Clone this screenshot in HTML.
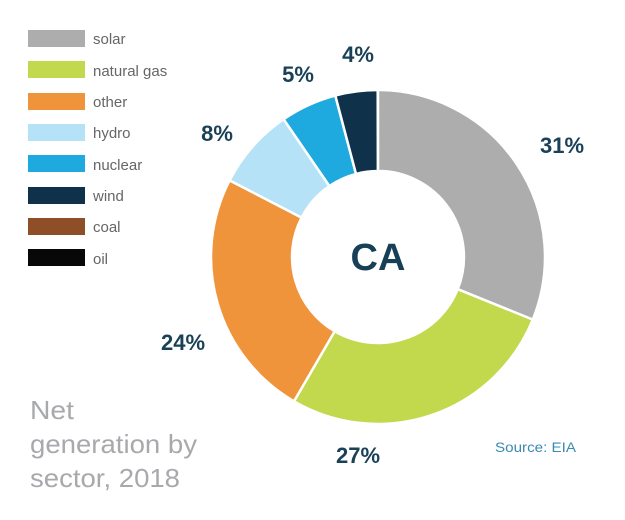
<!DOCTYPE html>
<html><head><meta charset="utf-8"><style>
html,body{margin:0;padding:0;background:#fff;}
body{width:625px;height:515px;overflow:hidden;}
</style></head><body>
<svg width="625" height="515" xmlns="http://www.w3.org/2000/svg" style="font-family:'Liberation Sans',sans-serif">
<g stroke="#fff" stroke-width="2.5" stroke-linejoin="round">
<path d="M378,90 A167,167 0 0 1 532.8,319.6 L457.7,289.2 A86,86 0 0 0 378,171 Z" fill="#adadad"/>
<path d="M532.8,319.6 A167,167 0 0 1 294,401.3 L334.7,331.3 A86,86 0 0 0 457.7,289.2 Z" fill="#c2d84d"/>
<path d="M294,401.3 A167,167 0 0 1 229.6,180.4 L301.6,217.6 A86,86 0 0 0 334.7,331.3 Z" fill="#ef943b"/>
<path d="M229.6,180.4 A167,167 0 0 1 283.6,119.2 L329.4,186 A86,86 0 0 0 301.6,217.6 Z" fill="#b5e2f7"/>
<path d="M283.6,119.2 A167,167 0 0 1 335.3,95.5 L356,173.9 A86,86 0 0 0 329.4,186 Z" fill="#1faadf"/>
<path d="M335.3,95.5 A167,167 0 0 1 377.7,90 L377.85,171 A86,86 0 0 0 356,173.9 Z" fill="#0f3149"/>
</g>
<text x="378" y="270" text-anchor="middle" font-size="38" font-weight="bold" fill="#173f55">CA</text>
<g font-size="22" font-weight="bold" fill="#1a4157" text-anchor="middle">
<text x="562" y="153">31%</text>
<text x="358" y="463">27%</text>
<text x="183" y="350">24%</text>
<text x="217" y="141">8%</text>
<text x="298" y="82">5%</text>
<text x="358" y="62">4%</text>
</g>
<g font-size="15" fill="#666">
<rect x="28" y="30" width="57" height="17" fill="#adadad"/><text x="93" y="44">solar</text>
<rect x="28" y="61" width="57" height="17" fill="#c2d84d"/><text x="93" y="76">natural gas</text>
<rect x="28" y="93" width="57" height="17" fill="#ef943b"/><text x="93" y="107">other</text>
<rect x="28" y="124" width="57" height="17" fill="#b5e2f7"/><text x="93" y="138">hydro</text>
<rect x="28" y="155" width="57" height="17" fill="#1faadf"/><text x="93" y="170">nuclear</text>
<rect x="28" y="187" width="57" height="17" fill="#0f3149"/><text x="93" y="201">wind</text>
<rect x="28" y="218" width="57" height="17" fill="#8e4f28"/><text x="93" y="232">coal</text>
<rect x="28" y="249" width="57" height="17" fill="#080808"/><text x="93" y="264">oil</text>
</g>
<g font-size="26" fill="#a7a9ac">
<text x="30" y="419" textLength="44" lengthAdjust="spacingAndGlyphs">Net</text>
<text x="30" y="453" textLength="167" lengthAdjust="spacingAndGlyphs">generation by</text>
<text x="30" y="487" textLength="150" lengthAdjust="spacingAndGlyphs">sector, 2018</text>
</g>
<text x="495" y="452" font-size="14" fill="#3a8bb0" textLength="81" lengthAdjust="spacingAndGlyphs">Source: EIA</text>
</svg>
</body></html>
